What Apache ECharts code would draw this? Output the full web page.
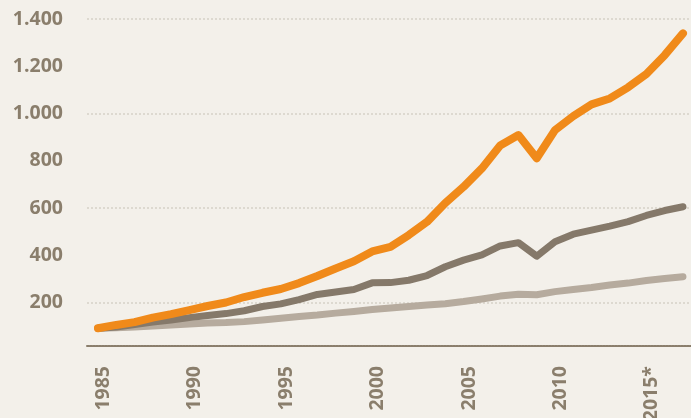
<!DOCTYPE html>
<html>
<head>
<meta charset="utf-8">
<script src="https://cdn.jsdelivr.net/npm/echarts@6/dist/echarts.min.js"></script>
<style>
  html, body { margin: 0; padding: 0; background: #f3f0ea; }
  #chart { width: 691px; height: 418px; }
</style>
</head>
<body>
<div id="chart"></div>
<script>
// Jahre 1985 - 2017
var years = [];
for (var y = 1985; y <= 2017; y++) years.push(y);

var labelYears = [1985, 1990, 1995, 2000, 2005, 2010, 2015];

// orange Linie
var seriesOrange = [92, 106, 118, 137, 152, 169, 186, 201, 224, 242, 258, 283, 313, 345, 375, 417, 436, 486, 542, 622,
  690, 768, 865, 909, 811, 930, 989, 1039, 1064, 1111, 1167, 1247, 1339];
// dunkle Linie
var seriesDark = [92, 97, 108, 118, 127, 137, 146, 154, 166, 184, 195, 213, 235, 245, 256, 284, 285, 295, 315, 352,
  380, 402, 440, 454, 397, 458, 490, 507, 524, 543, 569, 590, 606];
// helle Linie
var seriesLight = [92, 94, 97, 101, 106, 110, 114, 116, 120, 127, 134, 142, 148, 156, 163, 171, 178, 184, 190, 196,
  205, 216, 228, 236, 234, 247, 256, 264, 275, 283, 294, 302, 310];

var textColor = '#8a7e6c';

function pairs(values) {
  return values.map(function(v, i) { return [years[i], v]; });
}

function fmtThousands(v) {
  return String(v).replace(/\B(?=(\d{3})+(?!\d))/g, '.');
}

var chart = echarts.init(document.getElementById('chart'));
chart.setOption({
  backgroundColor: '#f3f0ea',
  animation: false,
  grid: { left: 87, right: 0, top: 19, bottom: 68, outerBoundsMode: 'none' },
  xAxis: {
    type: 'value',
    min: 1984.4,
    max: 2017.44,
    offset: -4,
    axisLine: { onZero: false, lineStyle: { color: textColor, width: 2, type: [2, 1] } },
    axisTick: { show: false },
    splitLine: { show: false },
    axisLabel: {
      // Beschriftung etwas rechts vom Jahr, wie im Original
      customValues: labelYears.map(function(y) { return y + 0.3; }),
      rotate: 90,
      margin: 20,
      color: textColor,
      fontFamily: 'Open Sans',
      fontWeight: 'bold',
      fontSize: 19.5,
      formatter: function(v) {
        var y = Math.round(v);
        return y === 2015 ? y + '*' : String(y);
      }
    }
  },
  yAxis: {
    type: 'value',
    min: 0,
    max: 1400,
    interval: 200,
    axisLine: { show: false },
    axisTick: { show: false },
    splitLine: { lineStyle: { color: ['rgba(0,0,0,0)', '#d6d1c8'], width: 1.5, type: [2, 2] } },
    axisLabel: {
      margin: 24,
      color: textColor,
      fontFamily: 'Open Sans',
      fontWeight: 'bold',
      fontSize: 19.5,
      formatter: function(v) { return v === 0 ? '' : fmtThousands(v); }
    }
  },
  series: [
    {
      type: 'line', data: pairs(seriesLight), showSymbol: false, z: 2,
      lineStyle: { color: '#b6ab9e', width: 7, cap: 'round', join: 'round' }
    },
    {
      type: 'line', data: pairs(seriesDark), showSymbol: false, z: 3,
      lineStyle: { color: '#85796a', width: 7, cap: 'round', join: 'round' }
    },
    {
      type: 'line', data: pairs(seriesOrange), showSymbol: false, z: 4,
      lineStyle: { color: '#f08a1a', width: 8, cap: 'round', join: 'round' }
    }
  ]
});
</script>
</body>
</html>
